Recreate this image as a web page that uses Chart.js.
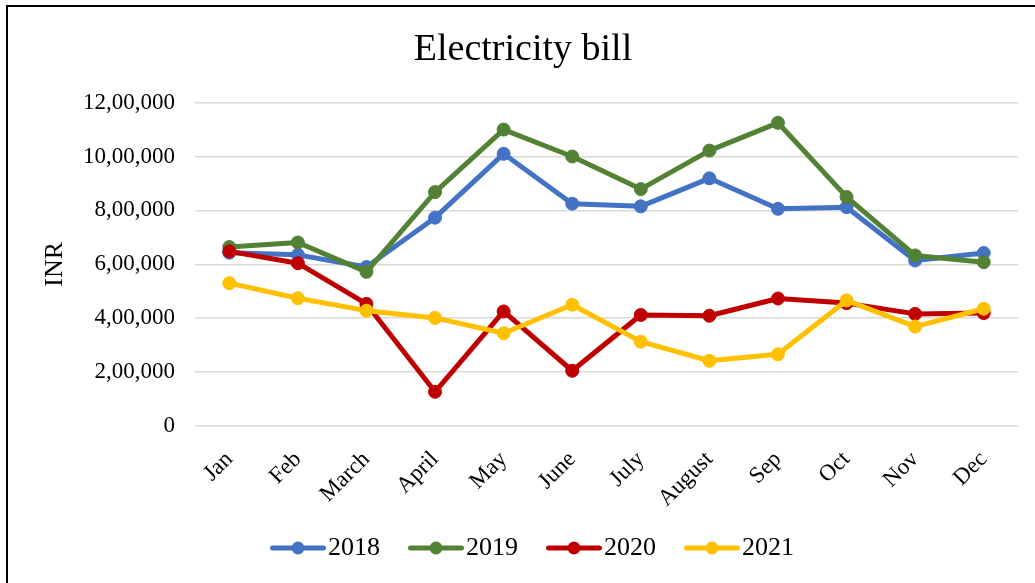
<!DOCTYPE html>
<html>
<head>
<meta charset="utf-8">
<title>Electricity bill</title>
<script src="https://cdn.jsdelivr.net/npm/chart.js@4.4.3/dist/chart.umd.min.js"></script>
<style>
  html, body { margin: 0; padding: 0; background: #fff; overflow: hidden; }
  #frame {
    position: absolute; left: 6px; top: 5px;
    width: 1040px; height: 600px;
    border: 2.5px solid #000; box-sizing: border-box;
  }
  #wrap { position: absolute; left: 0; top: 0; width: 1035px; height: 583px; }
</style>
</head>
<body>
<div id="frame"></div>
<div id="wrap"><canvas id="bill-chart"></canvas></div>
<script>
// chart data
const months = ["Jan", "Feb", "March", "April", "May", "June", "July", "August", "Sep", "Oct", "Nov", "Dec"];
const years = ["2018", "2019", "2020", "2021"];
const bill2018 = [643000, 635000, 590000, 773000, 1010000, 825000, 815000, 919000, 806000, 812000, 614000, 642000];
const bill2019 = [664000, 681000, 572000, 868000, 1100000, 1000000, 879000, 1022000, 1125000, 850000, 633000, 608000];
const bill2020 = [648000, 604000, 453000, 127000, 425000, 205000, 412000, 409000, 473000, 456000, 416000, 419000];
const bill2021 = [530000, 474000, 428000, 401000, 344000, 450000, 313000, 242000, 266000, 466000, 369000, 435000];
const colors = ["#4472C4", "#548235", "#C00000", "#FFC000"];

const FONT = "'Liberation Serif', 'Times New Roman', serif";

// Indian digit grouping: 12,00,000
function fmtINR(v) {
  const s = String(Math.round(v));
  if (s.length <= 3) return s;
  const last3 = s.slice(-3);
  let rest = s.slice(0, -3);
  const parts = [];
  while (rest.length > 2) {
    parts.unshift(rest.slice(-2));
    rest = rest.slice(0, -2);
  }
  if (rest) parts.unshift(rest);
  return parts.join(",") + "," + last3;
}

// legend marker: line with a dot, like the office chart legend
function legendMarker(color) {
  const c = document.createElement("canvas");
  c.width = 85;
  c.height = 16;
  const g = c.getContext("2d");
  g.strokeStyle = color;
  g.lineWidth = 5;
  g.lineCap = "round";
  g.beginPath();
  g.moveTo(31.5, 8);
  g.lineTo(82.5, 8);
  g.stroke();
  g.fillStyle = color;
  g.beginPath();
  g.arc(57, 8, 6.5, 0, Math.PI * 2);
  g.fill();
  return c;
}
const markers = colors.map(legendMarker);

const series = [bill2018, bill2019, bill2020, bill2021];

new Chart(document.getElementById("bill-chart"), {
  type: "line",
  data: {
    labels: months,
    datasets: series.map((values, i) => ({
      label: years[i],
      data: values,
      borderColor: colors[i],
      backgroundColor: colors[i],
      pointBackgroundColor: colors[i],
      pointBorderColor: colors[i],
      borderWidth: 5,
      pointRadius: 6.5,
      pointBorderWidth: 1,
      borderCapStyle: "round",
      borderJoinStyle: "round",
      tension: 0,
      order: series.length - i,
    })),
  },
  options: {
    responsive: true,
    maintainAspectRatio: false,
    animation: false,
    layout: { padding: { left: 28, right: 17, top: 10, bottom: 12 } },
    scales: {
      x: {
        offset: true,
        grid: { display: false, drawTicks: false },
        border: { display: false },
        ticks: {
          color: "#000",
          font: { family: FONT, size: 23 },
          minRotation: 45,
          maxRotation: 45,
          padding: 20,
          autoSkip: false,
        },
        afterFit(scale) { scale.height = 99; },
      },
      y: {
        min: 0,
        max: 1200000,
        grid: { color: "#d9d9d9", lineWidth: 1.5, drawTicks: false },
        border: { display: false },
        ticks: {
          stepSize: 200000,
          color: "#000",
          font: { family: FONT, size: 23 },
          padding: 20,
          callback: (v) => fmtINR(v),
        },
        title: {
          display: true,
          text: "INR",
          color: "#000",
          font: { family: FONT, size: 26 },
          padding: { top: 12, bottom: 0 },
        },
        afterFit(scale) { scale.width = 167; },
      },
    },
    plugins: {
      title: {
        display: true,
        text: "Electricity bill",
        color: "#000",
        font: { family: FONT, size: 38, weight: "normal" },
        padding: { top: 17, bottom: 30 },
      },
      legend: {
        position: "bottom",
        labels: {
          usePointStyle: true,
          pointStyleWidth: 63,
          padding: 10,
          color: "#000",
          font: { family: FONT, size: 26 },
          generateLabels(chart) {
            const items = Chart.defaults.plugins.legend.labels.generateLabels(chart);
            items.forEach((it) => { it.pointStyle = markers[it.datasetIndex]; });
            return items.sort((a, b) => a.datasetIndex - b.datasetIndex);
          },
        },
      },
      tooltip: { enabled: false },
    },
  },
});
</script>
</body>
</html>
